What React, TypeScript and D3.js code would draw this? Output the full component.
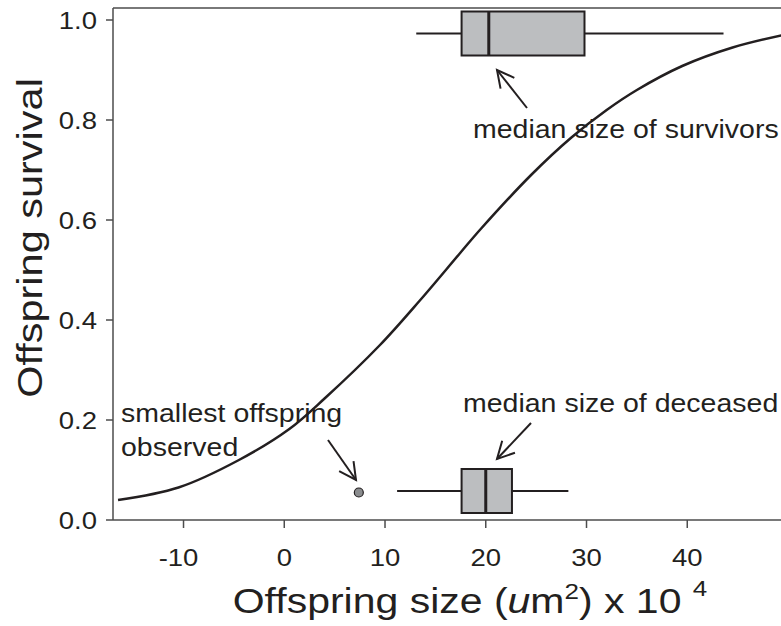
import React from 'react';
import * as d3 from 'd3';

// fitted survival curve
const curveSize = [-16.5, -10.5, -4.5, 0.5, 4, 9.5, 13.5, 17.5, 19.5, 24.5, 28.5, 32, 35, 39.5, 44.5, 49.5];
const curveSurvival = [0.04, 0.065, 0.12, 0.182, 0.243, 0.35, 0.44, 0.535, 0.582, 0.69, 0.765, 0.82, 0.86, 0.908, 0.945, 0.97];

// box plots: survivors (top), deceased (bottom)
const boxGroups = ['survivors', 'deceased'];
const boxMin = [13.1, 11.2];
const boxQ1 = [17.6, 17.6];
const boxMedian = [20.3, 20.0];
const boxQ3 = [29.8, 22.6];
const boxMax = [43.6, 28.2];
const boxLevel = [0.973, 0.058];

// smallest observed offspring
const smallestSize = [7.4];
const smallestLevel = [0.055];

const xTicks = [-10, 0, 10, 20, 30, 40];
const yTicks = [0, 0.2, 0.4, 0.6, 0.8, 1.0];

const W = 781;
const H = 626;
const ink = '#231f20';
const axisInk = '#4d4d4d';
const font = '"Liberation Sans", Arial, Helvetica, sans-serif';

const x = d3.scaleLinear().domain([-17, 50]).range([113, 788]);
const y = d3.scaleLinear().domain([0, 1]).range([520, 20]);
const plotTop = 8;

// the figure's lettering is a little squatter than Arial, so squash vertically
const SY = 0.9;

const Txt = ({ x, y, size, anchor = 'start', rotate = 0, sy = SY, children }: any) => (
  <g transform={`translate(${x},${y}) rotate(${rotate}) scale(1,${sy})`}>
    <text textAnchor={anchor} fontSize={size} fill={ink}>{children}</text>
  </g>
);

const Arrow = ({ x1, y1, x2, y2 }: { x1: number; y1: number; x2: number; y2: number }) => {
  // open arrowhead at (x2, y2)
  const a = Math.atan2(y1 - y2, x1 - x2);
  const len = 19;
  const spread = 0.48;
  const p1 = [x2 + len * Math.cos(a + spread), y2 + len * Math.sin(a + spread)];
  const p2 = [x2 + len * Math.cos(a - spread), y2 + len * Math.sin(a - spread)];
  return (
    <g stroke={ink} strokeWidth={2} fill="none">
      <line x1={x1} y1={y1} x2={x2} y2={y2} />
      <polyline points={`${p1[0]},${p1[1]} ${x2},${y2} ${p2[0]},${p2[1]}`} />
    </g>
  );
};

export default function App() {
  const line = d3.line<number>()
    .x((_, i) => x(curveSize[i]))
    .y(d => y(d))
    .curve(d3.curveCatmullRom);

  const boxH = 44;
  const tickSize = 27.5;
  const noteSize = 28.5;

  return (
    <svg width={W} height={H} style={{ display: 'block', position: 'absolute', left: 0, top: 0, background: '#fff' }} fontFamily={font}>
      {/* frame */}
      <line x1={113} y1={plotTop} x2={W} y2={plotTop} stroke={axisInk} strokeWidth={1.5} />
      <line x1={113} y1={plotTop} x2={113} y2={520} stroke={axisInk} strokeWidth={1.5} />
      <line x1={113} y1={520} x2={W} y2={520} stroke={axisInk} strokeWidth={1.5} />

      {/* y axis */}
      {yTicks.map(t => (
        <g key={t}>
          <line x1={106} x2={113} y1={y(t)} y2={y(t)} stroke={axisInk} strokeWidth={1.5} />
          <Txt x={97} y={y(t) + 0.36 * tickSize * SY} size={tickSize} anchor="end">{t.toFixed(1)}</Txt>
        </g>
      ))}
      <Txt x={42} y={238} size={41.5} anchor="middle" rotate={-90} sy={0.85}>Offspring survival</Txt>

      {/* x axis */}
      {xTicks.map(t => (
        <g key={t}>
          <line x1={x(t)} x2={x(t)} y1={520} y2={528} stroke={axisInk} strokeWidth={1.5} />
          <Txt x={x(t) - (t < 0 ? 5 : 0)} y={566} size={tickSize} anchor="middle">{t}</Txt>
        </g>
      ))}
      <Txt x={470} y={612.5} size={41} anchor="middle" sy={0.86}>
        Offspring size (<tspan fontStyle="italic">u</tspan>m<tspan fontSize={26} dy={-16}>2</tspan><tspan dy={16}>) x 10 </tspan><tspan fontSize={26} dy={-19}>4</tspan>
      </Txt>

      {/* survival curve */}
      <path d={line(curveSurvival) || ''} fill="none" stroke={ink} strokeWidth={2.5} />

      {/* box plots */}
      {boxGroups.map((g, i) => {
        const cy = y(boxLevel[i]);
        return (
          <g key={g} stroke={ink}>
            <line x1={x(boxMin[i])} x2={x(boxQ1[i])} y1={cy} y2={cy} strokeWidth={2} />
            <line x1={x(boxQ3[i])} x2={x(boxMax[i])} y1={cy} y2={cy} strokeWidth={2} />
            <rect x={x(boxQ1[i])} y={cy - boxH / 2} width={x(boxQ3[i]) - x(boxQ1[i])} height={boxH} fill="#bcbec0" strokeWidth={2} />
            <line x1={x(boxMedian[i])} x2={x(boxMedian[i])} y1={cy - boxH / 2} y2={cy + boxH / 2} strokeWidth={3} />
          </g>
        );
      })}

      {/* smallest offspring point */}
      {smallestSize.map((s, i) => (
        <circle key={i} cx={x(s)} cy={y(smallestLevel[i])} r={4.5} fill="#8a8c8e" stroke={ink} strokeWidth={1.2} />
      ))}

      {/* annotations */}
      <Txt x={473} y={137.5} size={noteSize}>median size of survivors</Txt>
      <Arrow x1={527} y1={108} x2={497} y2={70} />

      <Txt x={463} y={411.5} size={noteSize}>median size of deceased</Txt>
      <Arrow x1={531} y1={423} x2={497} y2={459} />

      <Txt x={121} y={421.5} size={noteSize}>smallest offspring</Txt>
      <Txt x={121} y={456} size={noteSize}>observed</Txt>
      <Arrow x1={328} y1={440} x2={356} y2={480} />
    </svg>
  );
}
